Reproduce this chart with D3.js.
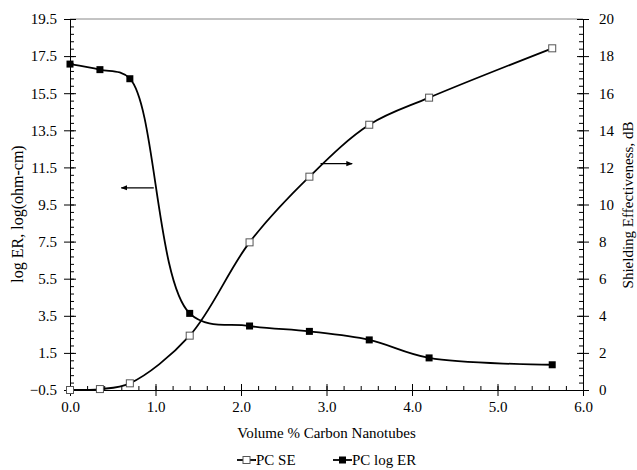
<!DOCTYPE html>
<html>
<head>
<meta charset="utf-8">
<script src="https://cdn.jsdelivr.net/npm/d3@7"></script>
<style>
  body { margin: 0; background: #fff; }
  text { font-family: "Liberation Serif", "Times New Roman", serif; }
</style>
</head>
<body>
<div class="canvas"></div>
<script>
// data
const volume = [0, 0.35, 0.7, 1.4, 2.1, 2.8, 3.5, 4.2, 5.64];
const pcSE = [0, 0.05, 0.36, 2.93, 7.96, 11.5, 14.3, 15.76, 18.42];
const pcLogER = [17.07, 16.77, 16.28, 3.63, 2.95, 2.66, 2.2, 1.23, 0.86];
const leftTicks = [-0.5, 1.5, 3.5, 5.5, 7.5, 9.5, 11.5, 13.5, 15.5, 17.5, 19.5];
const rightTicks = [0, 2, 4, 6, 8, 10, 12, 14, 16, 18, 20];
const xTicks = [0, 1, 2, 3, 4, 5, 6];
const seriesNames = ['PC SE', 'PC log ER'];

const width = 637, height = 470;
const margin = {top: 19, right: 54, bottom: 80, left: 70};
const graphWidth = width - margin.left - margin.right;
const graphHeight = height - margin.top - margin.bottom;
const fs = 15;

const svg = d3.select('.canvas')
    .append('svg')
        .attr('width', width)
        .attr('height', height);

const graph = svg.append('g')
    .attr('transform', `translate(${margin.left}, ${margin.top})`);

const x = d3.scaleLinear().domain([0, 6]).range([0, graphWidth]);
const yL = d3.scaleLinear().domain([-0.5, 19.5]).range([graphHeight, 0]);
const yR = d3.scaleLinear().domain([0, 20]).range([graphHeight, 0]);

// minor tick values (major / 5)
const minor = (a, b, step) => d3.range(0, Math.round((b - a) / step) + 1).map(i => a + i * step);
const xMinor = minor(0, 6, 0.2);
const lMinor = minor(-0.5, 19.5, 0.4);
const rMinor = minor(0, 20, 0.4);

// top border
graph.append('line')
    .attr('x1', 0).attr('x2', graphWidth)
    .attr('y1', 0).attr('y2', 0)
    .attr('stroke', '#888').attr('stroke-width', 1);

function styleAxis(g) {
    g.select('.domain').attr('stroke', '#000');
    g.selectAll('line').attr('stroke', '#000');
    g.selectAll('text').attr('font-size', fs).attr('fill', '#000');
}

// x axis: minor inside, major crossing
graph.append('g')
    .attr('transform', `translate(0,${graphHeight})`)
    .call(d3.axisBottom(x).tickValues(xMinor).tickSize(-4).tickFormat(''))
    .call(styleAxis);
graph.append('g')
    .attr('transform', `translate(0,${graphHeight})`)
    .call(d3.axisBottom(x).tickValues(xTicks).tickSize(-6).tickSizeOuter(0).tickFormat(''))
    .call(styleAxis);
graph.append('g')
    .attr('transform', `translate(0,${graphHeight})`)
    .call(d3.axisBottom(x).tickValues(xTicks).tickSize(6).tickSizeOuter(0).tickPadding(5).tickFormat(d3.format('.1f')))
    .call(styleAxis);

// left axis
graph.append('g')
    .call(d3.axisLeft(yL).tickValues(lMinor).tickSize(-4).tickFormat(''))
    .call(styleAxis);
graph.append('g')
    .call(d3.axisLeft(yL).tickValues(leftTicks).tickSize(-6).tickSizeOuter(0).tickFormat(''))
    .call(styleAxis);
graph.append('g')
    .call(d3.axisLeft(yL).tickValues(leftTicks).tickSize(6).tickSizeOuter(0).tickPadding(7).tickFormat(d3.format('.1f')))
    .call(styleAxis);

// right axis
graph.append('g')
    .attr('transform', `translate(${graphWidth},0)`)
    .call(d3.axisRight(yR).tickValues(rMinor).tickSize(-4).tickFormat(''))
    .call(styleAxis);
graph.append('g')
    .attr('transform', `translate(${graphWidth},0)`)
    .call(d3.axisRight(yR).tickValues(rightTicks).tickSize(-6).tickSizeOuter(0).tickFormat(''))
    .call(styleAxis);
graph.append('g')
    .attr('transform', `translate(${graphWidth},0)`)
    .call(d3.axisRight(yR).tickValues(rightTicks).tickSize(6).tickSizeOuter(0).tickPadding(10))
    .call(styleAxis);

// lines
const seData = volume.map((v, i) => [v, pcSE[i]]);
const erData = volume.map((v, i) => [v, pcLogER[i]]);
const curve = d3.curveCatmullRom.alpha(0.5);

graph.append('path')
    .datum(seData)
    .attr('fill', 'none').attr('stroke', '#000').attr('stroke-width', 1.8)
    .attr('d', d3.line().x(d => x(d[0])).y(d => yR(d[1])).curve(curve));
graph.append('path')
    .datum(erData)
    .attr('fill', 'none').attr('stroke', '#000').attr('stroke-width', 1.8)
    .attr('d', d3.line().x(d => x(d[0])).y(d => yL(d[1])).curve(curve));

const ms = 7;
graph.selectAll('rect.se')
    .data(seData)
    .enter().append('rect')
        .attr('class', 'se')
        .attr('x', d => x(d[0]) - ms / 2)
        .attr('y', d => yR(d[1]) - ms / 2)
        .attr('width', ms).attr('height', ms)
        .attr('fill', '#fff').attr('stroke', '#555').attr('stroke-width', 1);
graph.selectAll('rect.er')
    .data(erData)
    .enter().append('rect')
        .attr('class', 'er')
        .attr('x', d => x(d[0]) - ms / 2)
        .attr('y', d => yL(d[1]) - ms / 2)
        .attr('width', ms).attr('height', ms)
        .attr('fill', '#000');

// arrows pointing to the axis each curve belongs to
svg.append('defs').append('marker')
    .attr('id', 'head')
    .attr('viewBox', '0 0 10 10')
    .attr('refX', 9).attr('refY', 5)
    .attr('markerWidth', 5).attr('markerHeight', 5)
    .attr('orient', 'auto')
  .append('path')
    .attr('d', 'M0,1 L10,5 L0,9 z')
    .attr('fill', '#000');

graph.append('line')
    .attr('x1', x(0.98)).attr('x2', x(0.6))
    .attr('y1', yL(10.4)).attr('y2', yL(10.4))
    .attr('stroke', '#000').attr('stroke-width', 1.3)
    .attr('marker-end', 'url(#head)');
graph.append('line')
    .attr('x1', x(2.93)).attr('x2', x(3.3))
    .attr('y1', yR(12.2)).attr('y2', yR(12.2))
    .attr('stroke', '#000').attr('stroke-width', 1.3)
    .attr('marker-end', 'url(#head)');

// axis titles
svg.append('text')
    .attr('x', margin.left + graphWidth / 2)
    .attr('y', 438)
    .attr('text-anchor', 'middle')
    .attr('font-size', fs)
    .text('Volume % Carbon Nanotubes');
svg.append('text')
    .attr('transform', `translate(23, 214) rotate(-90)`)
    .attr('text-anchor', 'middle')
    .attr('font-size', 16)
    .text('log ER, log(ohm-cm)');
svg.append('text')
    .attr('transform', `translate(633, 205) rotate(-90)`)
    .attr('text-anchor', 'middle')
    .attr('font-size', fs)
    .text('Shielding Effectiveness, dB');

// legend
const legend = svg.append('g').attr('transform', 'translate(237, 460)');
const legendX = [0, 96];
seriesNames.forEach((name, i) => {
    const g = legend.append('g').attr('transform', `translate(${legendX[i]},0)`);
    g.append('line').attr('x1', 0).attr('x2', 19).attr('y1', 0).attr('y2', 0)
        .attr('stroke', '#000').attr('stroke-width', 1.8);
    g.append('rect').attr('x', 9.5 - 3.5).attr('y', -3.5).attr('width', 7).attr('height', 7)
        .attr('fill', i === 0 ? '#fff' : '#000')
        .attr('stroke', i === 0 ? '#555' : 'none');
    g.append('text').attr('x', 19).attr('y', 5)
        .attr('font-size', fs)
        .text(name);
});
</script>
</body>
</html>
